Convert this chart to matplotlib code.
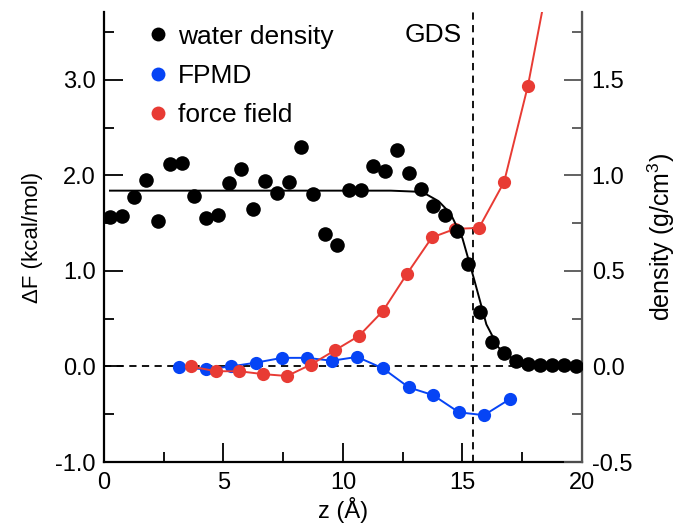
import matplotlib
matplotlib.use("Agg")
import matplotlib.pyplot as plt
from matplotlib.lines import Line2D
from matplotlib.ticker import MultipleLocator, FormatStrFormatter

plt.rcParams['font.family'] = ['Liberation Sans', 'DejaVu Sans']
plt.rcParams['mathtext.default'] = 'regular'
plt.rcParams['font.size'] = 16

# water density points (g/cm^3)
z_water = [0.25 + 0.5 * i for i in range(40)]
rho_water = [0.78, 0.785, 0.885, 0.975, 0.76, 1.06, 1.065, 0.89, 0.775, 0.79,
             0.96, 1.035, 0.825, 0.97, 0.91, 0.965, 1.15, 0.90, 0.695, 0.635,
             0.925, 0.925, 1.05, 1.025, 1.135, 1.01, 0.93, 0.84, 0.795, 0.71,
             0.535, 0.285, 0.13, 0.07, 0.03, 0.015, 0.005, 0.005, 0.005, 0.0]

# fitted density profile
z_fit = [0.25, 12.0, 13.0, 13.5, 14.0, 14.5, 15.0, 15.5, 16.0, 16.5, 17.0,
         17.5, 18.0, 19.0, 19.8]
rho_fit = [0.92, 0.92, 0.915, 0.90, 0.865, 0.80, 0.67, 0.45, 0.22, 0.10,
           0.05, 0.02, 0.01, 0.002, 0.0]

# free energy profiles (kcal/mol)
z_fpmd = [3.14, 4.27, 5.31, 6.36, 7.45, 8.49, 9.54, 10.59, 11.67, 12.76,
          13.77, 14.85, 15.9, 16.99]
dF_fpmd = [-0.01, -0.03, 0.0, 0.04, 0.09, 0.09, 0.06, 0.10, -0.02, -0.22,
           -0.30, -0.48, -0.51, -0.34]

z_ff = [3.63, 4.69, 5.65, 6.65, 7.66, 8.66, 9.67, 10.67, 11.67, 12.68,
        13.72, 14.69, 15.69, 16.74, 17.74, 18.74]
dF_ff = [0.0, -0.05, -0.05, -0.08, -0.10, 0.02, 0.17, 0.32, 0.58, 0.97,
         1.35, 1.44, 1.45, 1.93, 2.94, 4.25]

z_gds = 15.43

blue = '#0644f5'
red = '#e83b34'

fig = plt.figure(figsize=(6.81, 5.30), dpi=100)
ax = fig.add_axes([0.1527, 0.1283, 0.7019, 0.8491])
ax2 = ax.twinx()

ax.axhline(0, color='black', lw=1.3, ls=(0, (4, 3)), zorder=1)
ax.axvline(z_gds, color='black', lw=1.3, ls=(0, (4, 3)), zorder=1)

ax.plot(z_fpmd, dF_fpmd, color=blue, lw=1.4, marker='o', ms=9.5,
        mec='none', zorder=3)
ax.plot(z_ff, dF_ff, color=red, lw=1.4, marker='o', ms=9.5,
        mec='none', zorder=4)

ax2.plot(z_fit, rho_fit, color='black', lw=1.4, zorder=2)
ax2.plot(z_water, rho_water, ls='none', marker='o', ms=10.5,
         color='black', mec='none', zorder=3)

ax.text(14.95, 3.47, 'GDS', ha='right', va='center', fontsize=19)

ax.set_xlim(0, 20)
ax.set_ylim(-1.0, 3.71)
ax2.set_ylim(-0.5, 1.855)

ax.xaxis.set_major_locator(MultipleLocator(5))
ax.xaxis.set_minor_locator(MultipleLocator(2.5))
ax.yaxis.set_major_locator(MultipleLocator(1.0))
ax.yaxis.set_minor_locator(MultipleLocator(0.5))
ax2.yaxis.set_major_locator(MultipleLocator(0.5))
ax2.yaxis.set_minor_locator(MultipleLocator(0.25))
ax.yaxis.set_major_formatter(FormatStrFormatter('%.1f'))
ax2.yaxis.set_major_formatter(FormatStrFormatter('%.1f'))

ax.tick_params(axis='both', which='major', direction='in', length=14,
               width=1.3, labelsize=17, right=False, top=False)
ax.tick_params(axis='both', which='minor', direction='in', length=7,
               width=1.3, right=False, top=False)
ax.tick_params(axis='y', pad=6)
ax.tick_params(axis='x', pad=7)
ax2.tick_params(axis='y', which='major', direction='in', length=13,
                width=1.3, labelsize=17, pad=7, color='#555555')
ax2.tick_params(axis='y', which='minor', direction='in', length=7,
                width=1.3, color='#555555')

for a in (ax, ax2):
    a.spines['top'].set_visible(False)
ax.spines['left'].set_linewidth(1.6)
ax.spines['bottom'].set_linewidth(1.6)
ax2.spines['right'].set_linewidth(1.6)
ax2.spines['right'].set_color('#555555')
ax2.spines['left'].set_visible(False)
ax2.spines['bottom'].set_visible(False)

ax.set_xlabel('z (Å)', fontsize=17, labelpad=2)
ax.set_ylabel('ΔF (kcal/mol)', fontsize=16, labelpad=9)
ax2.set_ylabel('density (g/cm$^3$)', fontsize=18, labelpad=10)

handles = [
    Line2D([], [], ls='none', marker='o', ms=10, color='black', mec='none'),
    Line2D([], [], ls='none', marker='o', ms=10, color=blue, mec='none'),
    Line2D([], [], ls='none', marker='o', ms=10, color=red, mec='none'),
]
ax.legend(handles, ['water density', 'FPMD', 'force field'],
          loc='upper left', bbox_to_anchor=(0.0854, 0.972), frameon=False,
          borderpad=0, borderaxespad=0, handlelength=1.0,
          handletextpad=0.26, labelspacing=0.58, fontsize=19)

fig.savefig('out.png', dpi=100)
